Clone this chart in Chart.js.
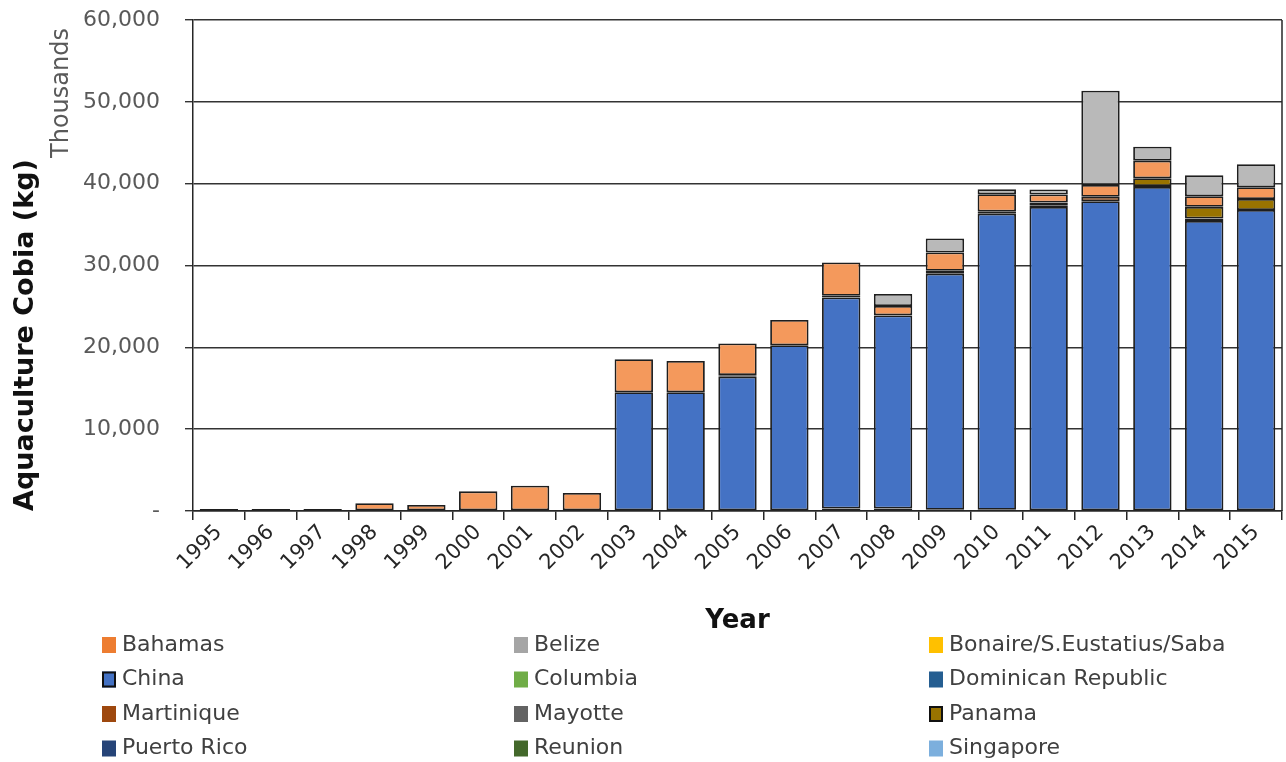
<!DOCTYPE html>
<html lang="en">
  <head>
    <meta charset="UTF-8" />
    <title>Aquaculture Cobia by Country</title>
    <script src="https://cdn.jsdelivr.net/npm/chart.js"></script>
    <style>
      html,
      body {
        margin: 0;
        padding: 0;
        background: #fff;
      }
      #wrap {
        width: 1286px;
        height: 762px;
        position: relative;
      }
    </style>
  </head>
  <body>
    <div id="wrap"><canvas id="cobiaChart"></canvas></div>

    <script>
      // Years on the x axis
      const years = [
        "1995", "1996", "1997", "1998", "1999", "2000", "2001", "2002", "2003", "2004",
        "2005", "2006", "2007", "2008", "2009", "2010", "2011", "2012", "2013", "2014", "2015",
      ];

      // Values in thousands of kg
      const singapore = [0, 0, 0, 0, 0, 0, 0, 0, 0, 0, 0, 0, 300, 300, 0, 0, 0, 0, 0, 0, 0];
      const puertoRico = [0, 0, 0, 0, 0, 0, 0, 0, 0, 0, 0, 0, 0, 0, 150, 150, 0, 0, 0, 0, 0];
      const china = [0, 0, 0, 0, 0, 0, 0, 0, 14510, 14510, 16400, 20250, 25800, 23600, 28850, 36180, 37150, 37850, 39600, 35450, 36780];
      const columbia = [0, 0, 0, 0, 0, 0, 0, 0, 0, 0, 0, 0, 0, 0, 0, 0, 0, 0, 120, 0, 0];
      const martinique = [0, 0, 0, 0, 0, 0, 0, 0, 0, 0, 200, 0, 200, 0, 350, 250, 150, 550, 0, 300, 0];
      const panama = [0, 0, 0, 0, 0, 0, 0, 0, 0, 0, 0, 0, 0, 0, 0, 0, 400, 0, 940, 1420, 1350];
      const bahamas = [250, 250, 250, 950, 730, 2400, 3100, 2200, 4030, 3820, 3870, 3090, 4070, 1150, 2240, 2120, 980, 1430, 2150, 1300, 1430];
      const belize = [0, 0, 0, 0, 0, 0, 0, 0, 0, 0, 0, 0, 0, 1470, 1710, 610, 610, 11520, 1710, 2570, 2810];
      const bonaire = new Array(21).fill(0);
      const dominicanRepublic = new Array(21).fill(0);
      const mayotte = new Array(21).fill(0);
      const reunion = new Array(21).fill(0);

      // Y axis ticks
      const yTicks = [0, 10000, 20000, 30000, 40000, 50000, 60000];

      // Legend order (row by row, three per row)
      const legendOrder = [
        "Bahamas", "Belize", "Bonaire/S.Eustatius/Saba",
        "China", "Columbia", "Dominican Republic",
        "Martinique", "Mayotte", "Panama",
        "Puerto Rico", "Reunion", "Singapore",
      ];

      // Stack order bottom -> top
      const series = [
        { name: "Singapore", data: singapore, color: "#7CAFDD", swatchBorder: false },
        { name: "Puerto Rico", data: puertoRico, color: "#264478", swatchBorder: false },
        { name: "China", data: china, color: "#4472C4", swatchBorder: true },
        { name: "Columbia", data: columbia, color: "#70AD47", swatchBorder: false },
        { name: "Martinique", data: martinique, color: "#9E480E", swatchBorder: false },
        { name: "Panama", data: panama, color: "#997300", swatchBorder: true },
        { name: "Bahamas", data: bahamas, color: "#F4995C", legendColor: "#ED7D31", swatchBorder: false },
        { name: "Belize", data: belize, color: "#B9B9B9", legendColor: "#A5A5A5", swatchBorder: false },
        { name: "Bonaire/S.Eustatius/Saba", data: bonaire, color: "#FFC000", swatchBorder: false },
        { name: "Dominican Republic", data: dominicanRepublic, color: "#255E91", swatchBorder: false },
        { name: "Mayotte", data: mayotte, color: "#636363", swatchBorder: false },
        { name: "Reunion", data: reunion, color: "#43682B", swatchBorder: false },
      ];

      const FONT = "'DejaVu Sans', Verdana, sans-serif";

      const datasets = series.map((s) => ({
        label: s.name,
        data: s.data.map((v) => (v === 0 ? null : v)),
        backgroundColor: s.color,
        borderColor: "#1e1e1e",
        borderWidth: 1.8,
        borderSkipped: false,
        barPercentage: 0.74,
        categoryPercentage: 1,
      }));

      // frame line on the right, "Thousands" label and the 3-column legend
      const extras = {
        id: "extras",
        afterDraw(chart) {
          const { ctx, chartArea } = chart;
          ctx.save();
          ctx.strokeStyle = "#262626";
          ctx.lineWidth = 1.5;
          ctx.beginPath();
          ctx.moveTo(chartArea.right, chartArea.top);
          ctx.lineTo(chartArea.right, chartArea.bottom);
          ctx.stroke();

          ctx.translate(62, chartArea.top + 73);
          ctx.rotate(-Math.PI / 2);
          ctx.fillStyle = "#595959";
          ctx.font = "24px " + FONT;
          ctx.textAlign = "center";
          ctx.textBaseline = "middle";
          ctx.fillText("Thousands", 0, 0);
          ctx.restore();

          // legend
          ctx.save();
          const colX = [102, 514, 929];
          const rowY0 = 645;
          const rowH = 34.5;
          ctx.font = "22px " + FONT;
          ctx.textBaseline = "middle";
          ctx.textAlign = "left";
          legendOrder.forEach((name, i) => {
            const s = series.find((d) => d.name === name);
            const x = colX[i % 3];
            const y = rowY0 + Math.floor(i / 3) * rowH;
            ctx.fillStyle = s.legendColor || s.color;
            ctx.fillRect(x, y - 8, 14, 16);
            if (s.swatchBorder) {
              ctx.strokeStyle = "#111";
              ctx.lineWidth = 2;
              ctx.strokeRect(x + 1, y - 7, 12, 14);
            }
            ctx.fillStyle = "#404040";
            ctx.fillText(name, x + 20, y);
          });
          ctx.restore();
        },
      };

      const ctx = document.getElementById("cobiaChart").getContext("2d");
      new Chart(ctx, {
        type: "bar",
        data: { labels: years, datasets: datasets },
        plugins: [extras],
        options: {
          responsive: true,
          maintainAspectRatio: false,
          animation: false,
          layout: { padding: { top: 20, right: 4, bottom: 125, left: 0 } },
          plugins: {
            legend: { display: false },
            tooltip: { enabled: false },
          },
          scales: {
            x: {
              stacked: true,
              afterFit(scale) {
                scale.height = 126;
              },
              grid: {
                drawOnChartArea: false,
                drawTicks: true,
                tickLength: 9,
                color: "#262626",
                lineWidth: 1.5,
                offset: true,
              },
              border: { color: "#262626", width: 1.5 },
              ticks: {
                minRotation: 45,
                maxRotation: 45,
                color: "#262626",
                font: { family: FONT, size: 21 },
                padding: 0,
                autoSkip: false,
              },
              title: {
                display: true,
                text: "Year",
                color: "#111",
                font: { family: FONT, size: 26, weight: "bold" },
                padding: { top: 0, bottom: 0 },
              },
            },
            y: {
              stacked: true,
              min: 0,
              max: 60000,
              afterFit(scale) {
                scale.width = 193;
                // tick padding otherwise pushes the plot top down
                scale.paddingTop = 0;
                scale.paddingBottom = 0;
              },
              afterBuildTicks(scale) {
                scale.ticks = yTicks.map((v) => ({ value: v }));
              },
              grid: {
                color: "#333",
                lineWidth: 1.4,
                tickLength: 8,
                drawTicks: true,
              },
              border: { color: "#262626", width: 1.5 },
              ticks: {
                color: "#595959",
                font: { family: FONT, size: 22 },
                padding: 25,
                callback: (v) => (v === 0 ? "-" : v.toLocaleString("en-US")),
              },
              title: {
                display: true,
                text: "Aquaculture Cobia (kg)",
                align: "start",
                color: "#111",
                font: { family: FONT, size: 27, weight: "bold" },
                padding: { top: 10, bottom: 0 },
              },
            },
          },
        },
      });
    </script>
  </body>
</html>
